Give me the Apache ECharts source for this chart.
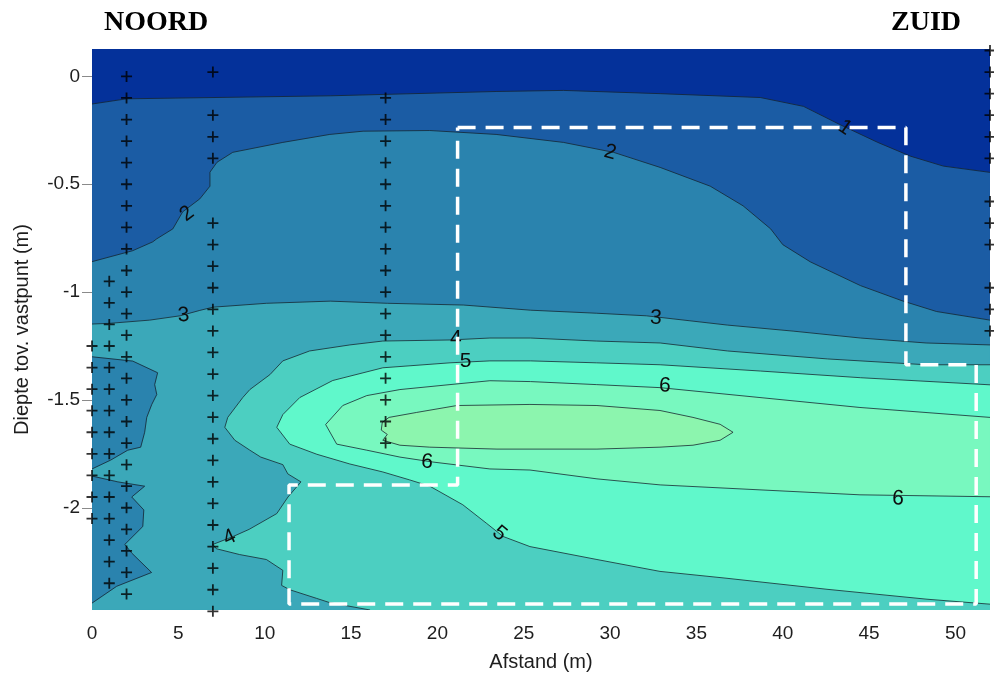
<!DOCTYPE html>
<html><head><meta charset="utf-8">
<script src="https://cdn.jsdelivr.net/npm/echarts@6/dist/echarts.min.js"></script>
<style>html,body{margin:0;padding:0;background:#fff}#c{width:994px;height:677px}</style>
</head><body><div id="c"></div>
<script>
// ---------- data ----------
const xTicks = [0, 5, 10, 15, 20, 25, 30, 35, 40, 45, 50];
const yTicks = [-2, -1.5, -1, -0.5, 0];
const xExtent = [0, 52];
const yExtent = [-2.474, 0.127];

// contour lines (x in m, depth in m)
const contour1 = [[0,-0.128],[2,-0.104],[13.8,-0.09],[23.4,-0.07],[27.3,-0.065],[32.9,-0.08],[38.7,-0.098],[41.2,-0.139],[43.3,-0.223],[45.5,-0.306],[47.4,-0.37],[49.3,-0.416],[52,-0.445]];
const contour2 = [[0,-0.859],[2.36,-0.808],[3.52,-0.767],[3.75,-0.753],[4.68,-0.707],[5.25,-0.628],[6.24,-0.568],[6.83,-0.509],[6.83,-0.444],[7.24,-0.398],[8.15,-0.352],[11.05,-0.306],[13.77,-0.269],[15.7,-0.254],[19.56,-0.251],[23.4,-0.269],[27.3,-0.306],[30.2,-0.352],[32.9,-0.422],[35.8,-0.509],[37.7,-0.6],[39.3,-0.707],[40.0,-0.78],[41.6,-0.86],[44.5,-0.97],[46.9,-1.04],[48.9,-1.09],[52,-1.13]];
const contour3 = [[0,-1.148],[1.0,-1.145],[3.34,-1.13],[5.1,-1.11],[6.24,-1.085],[7.0,-1.07],[10.1,-1.052],[13.8,-1.042],[17.1,-1.052],[21.5,-1.06],[25.4,-1.084],[29.2,-1.098],[32.1,-1.11],[36.8,-1.153],[40.6,-1.181],[44.5,-1.213],[48.3,-1.236],[52,-1.245]];
const contour3BlobUpper = [[0,-1.30],[2.36,-1.32],[3.8,-1.374],[3.63,-1.429],[3.75,-1.475],[3.46,-1.521],[3.17,-1.581],[3.05,-1.65],[2.82,-1.719],[2.07,-1.733],[1.08,-1.779],[0,-1.82]];
const contour3BlobLower = [[0,-1.853],[1.5,-1.88],[3.05,-1.9],[2.3,-1.95],[3.0,-2.01],[2.94,-2.087],[1.9,-2.17],[2.3,-2.21],[3.45,-2.3],[1.43,-2.364],[0,-2.442]];
const contour4 = [[52,-1.337],[48.3,-1.337],[42.6,-1.31],[36.8,-1.273],[32.9,-1.236],[29.2,-1.227],[25.4,-1.213],[23.04,-1.213],[20.73,-1.222],[16.84,-1.227],[14.93,-1.245],[12.6,-1.273],[11.05,-1.319],[10.3,-1.383],[9.14,-1.452],[8.73,-1.489],[7.86,-1.581],[7.69,-1.627],[8.27,-1.687],[9.14,-1.733],[9.77,-1.765],[11.05,-1.8],[11.34,-1.843],[12.1,-1.88],[11.35,-1.95],[10.7,-2.027],[9.1,-2.1],[8.15,-2.134],[7.0,-2.17],[7.2,-2.19],[8.55,-2.217],[10.1,-2.24],[11.05,-2.29],[10.98,-2.36],[11.45,-2.38],[13.0,-2.42],[13.77,-2.44],[16.1,-2.474]];
const contour5 = [[52,-1.43],[44.5,-1.397],[38.7,-1.366],[32.9,-1.337],[29.2,-1.328],[25.4,-1.319],[23.04,-1.319],[20.73,-1.328],[16.84,-1.351],[13.94,-1.41],[12.03,-1.489],[11.05,-1.568],[10.7,-1.627],[11.45,-1.705],[13.02,-1.752],[14.93,-1.797],[16.84,-1.834],[18.4,-1.871],[19.56,-1.9],[21.47,-1.986],[22.86,-2.073],[23.8,-2.133],[25.36,-2.18],[29.24,-2.24],[32.89,-2.295],[36.77,-2.327],[42.56,-2.378],[48.35,-2.424],[52,-2.447]];
const contour6 = [[52,-1.581],[44.47,-1.535],[38.68,-1.489],[32.89,-1.443],[29.2,-1.429],[25.4,-1.415],[23.04,-1.411],[20.73,-1.429],[17.83,-1.452],[15.91,-1.48],[14.52,-1.526],[13.53,-1.614],[14.17,-1.705],[15.91,-1.733],[17.83,-1.765],[19.74,-1.788],[23.04,-1.82],[25.36,-1.825],[29.24,-1.866],[32.9,-1.894],[38.68,-1.917],[44.47,-1.94],[52,-1.949]];
const contour7 = [[16.81,-1.604],[17.2,-1.581],[18.8,-1.558],[21.13,-1.526],[25.36,-1.521],[29.24,-1.526],[32.89,-1.549],[34.8,-1.581],[36.37,-1.613],[37.12,-1.65],[36.37,-1.687],[34.8,-1.71],[32.89,-1.719],[29.24,-1.728],[23.45,-1.728],[19.56,-1.719],[17.83,-1.71],[16.84,-1.687],[17.1,-1.66],[16.75,-1.64],[16.81,-1.604]];

// contour labels: text, x, depth
const labelTexts = ['1','2','2','3','3','4','4','5','5','6','6','6'];
const labelX     = [43.6, 30.0, 5.5, 5.3, 32.65, 21.07, 7.97, 21.64, 23.6, 33.17, 19.4, 46.68];
const labelY     = [-0.237, -0.352, -0.637, -1.108, -1.12, -1.213, -2.138, -1.319, -2.12, -1.434, -1.788, -1.958];

// measurement points (+) per profile
const probeX = [0, 1, 2, 7, 17, 52];
const depthsAt0  = [-1.25,-1.35,-1.45,-1.55,-1.65,-1.75,-1.85,-1.95,-2.05];
const depthsAt1  = [-0.95,-1.05,-1.15,-1.25,-1.35,-1.45,-1.55,-1.65,-1.75,-1.85,-1.95,-2.05,-2.15,-2.25,-2.35];
const depthsAt2  = [0,-0.1,-0.2,-0.3,-0.4,-0.5,-0.6,-0.7,-0.8,-0.9,-1.0,-1.1,-1.2,-1.3,-1.4,-1.5,-1.6,-1.7,-1.8,-1.9,-2.0,-2.1,-2.2,-2.3,-2.4];
const depthsAt7  = [0.02,-0.18,-0.28,-0.38,-0.68,-0.78,-0.88,-0.98,-1.08,-1.18,-1.28,-1.38,-1.48,-1.58,-1.68,-1.78,-1.88,-1.98,-2.08,-2.18,-2.28,-2.38,-2.48];
const depthsAt17 = [-0.1,-0.2,-0.3,-0.4,-0.5,-0.6,-0.7,-0.8,-0.9,-1.0,-1.1,-1.2,-1.3,-1.4,-1.5,-1.6,-1.7];
const depthsAt52 = [0.12,0.02,-0.08,-0.18,-0.28,-0.38,-0.58,-0.68,-0.78,-0.98,-1.08,-1.18];

// dashed outline of the studied zone
const zoneOutline = [[21.17,-0.237],[47.13,-0.237],[47.13,-1.337],[51.2,-1.337],[51.2,-2.446],[11.41,-2.446],[11.41,-1.894],[21.17,-1.894],[21.17,-0.237]];

// ---------- styles ----------
const bandColors = ['#04319a','#1b5ca4','#2a83ae','#3ba8b9','#4ccfc1','#60f8cb','#78f8bf','#8cf5ae'];
const labelAngles = [-35, -15, 38, 3, -3, 0, 25, 0, -40, -3, -5, -2];
const FONT = '"Liberation Sans", Arial, sans-serif';

// ---------- build fill regions ----------
const x0 = xExtent[0], x1 = xExtent[1], yb = yExtent[0], yt = yExtent[1];
const fills = [
  {pts: [[x0,yt],[x1,yt],[x1,yb],[x0,yb]], c: bandColors[0]},
  {pts: contour1.concat([[x1,yb],[x0,yb]]), c: bandColors[1]},
  {pts: contour2.concat([[x1,yb],[x0,yb]]), c: bandColors[2]},
  {pts: contour3.concat([[x1,yb],[x0,yb]]), c: bandColors[3]},
  {pts: contour3BlobUpper, c: bandColors[2]},
  {pts: contour3BlobLower, c: bandColors[2]},
  {pts: contour4.concat([[x1,yb]]), c: bandColors[4]},
  {pts: contour5, c: bandColors[5]},
  {pts: contour6, c: bandColors[6]},
  {pts: contour7, c: bandColors[7]}
];
const lines = [contour1, contour2, contour3, contour3BlobUpper, contour3BlobLower, contour4, contour5, contour6, contour7];

const probeDepths = [depthsAt0, depthsAt1, depthsAt2, depthsAt7, depthsAt17, depthsAt52];
const probePoints = [];
probeX.forEach((x, i) => probeDepths[i].forEach(d => probePoints.push([x, d])));

const PLUS = 'path://M4.6,0H6.4V4.6H11V6.4H6.4V11H4.6V6.4H0V4.6H4.6Z';

const chart = echarts.init(document.getElementById('c'), null, {renderer: 'canvas'});
chart.setOption({
  animation: false,
  backgroundColor: '#ffffff',
  grid: {left: 92, right: 4, top: 49, bottom: 63},
  xAxis: [{
    type: 'value', min: xExtent[0], max: xExtent[1], position: 'bottom',
    axisLine: {show: false},
    axisTick: {show: true, length: 9, customValues: xTicks, lineStyle: {color: '#8a8a8a'}},
    axisLabel: {customValues: xTicks, fontSize: 19, color: '#1e1e1e', fontFamily: FONT, margin: 14},
    splitLine: {show: false},
    name: 'Afstand (m)', nameLocation: 'middle', nameGap: 42,
    nameTextStyle: {fontSize: 20, color: '#1e1e1e', fontFamily: FONT}
  }, {
    type: 'value', min: xExtent[0], max: xExtent[1], position: 'top',
    axisLine: {show: false},
    axisTick: {show: true, length: 10, customValues: xTicks, lineStyle: {color: '#8a8a8a'}},
    axisLabel: {show: false}, splitLine: {show: false}
  }],
  yAxis: [{
    type: 'value', min: yExtent[0], max: yExtent[1], position: 'left',
    axisLine: {show: false},
    axisTick: {show: true, length: 10, customValues: yTicks, lineStyle: {color: '#8a8a8a'}},
    axisLabel: {customValues: yTicks, fontSize: 19, color: '#1e1e1e', fontFamily: FONT, margin: 12},
    splitLine: {show: false},
    name: 'Diepte tov. vastpunt (m)', nameLocation: 'middle', nameGap: 60, nameRotate: 90,
    nameTextStyle: {fontSize: 20, color: '#1e1e1e', fontFamily: FONT}
  }, {
    type: 'value', min: yExtent[0], max: yExtent[1], position: 'right',
    axisLine: {show: false},
    axisTick: {show: true, length: 6, customValues: yTicks, lineStyle: {color: '#8a8a8a'}},
    axisLabel: {show: false}, splitLine: {show: false}
  }],
  graphic: [
    {type: 'text', left: 104, top: 9, style: {text: 'NOORD', font: 'bold 28px "Liberation Serif", "Times New Roman", serif', fill: '#000'}},
    {type: 'text', left: 891, top: 9, style: {text: 'ZUID', font: 'bold 28px "Liberation Serif", "Times New Roman", serif', fill: '#000'}}
  ],
  series: [
    {
      type: 'custom', name: 'fills', xAxisIndex: 0, yAxisIndex: 0, clip: true, z: 1,
      data: fills.map((f, i) => [i, 0]),
      renderItem: (params, api) => {
        const f = fills[api.value(0)];
        return {type: 'polygon', shape: {points: f.pts.map(p => api.coord(p))},
                style: {fill: f.c, stroke: f.c, lineWidth: 0.3}};
      }
    },
    {
      type: 'custom', name: 'contours', xAxisIndex: 0, yAxisIndex: 0, clip: true, z: 2,
      data: lines.map((l, i) => [i, 0]),
      renderItem: (params, api) => {
        const l = lines[api.value(0)];
        return {type: 'polyline', shape: {points: l.map(p => api.coord(p))},
                style: {fill: null, stroke: '#14202c', lineWidth: 0.9, opacity: 0.85}};
      }
    },
    {
      type: 'custom', name: 'labels', xAxisIndex: 0, yAxisIndex: 0, clip: false, z: 3,
      data: labelTexts.map((t, i) => [labelX[i], labelY[i]]),
      renderItem: (params, api) => {
        const i = params.dataIndex;
        const pt = api.coord([api.value(0), api.value(1)]);
        return {type: 'text', x: pt[0], y: pt[1], rotation: labelAngles[i] * Math.PI / 180,
                style: {text: labelTexts[i], fill: '#0d0d0d', fontSize: 21, fontFamily: FONT,
                        align: 'center', verticalAlign: 'middle'}};
      }
    },
    {
      type: 'line', name: 'zone', data: zoneOutline, showSymbol: false, clip: false, z: 4,
      lineStyle: {color: '#ffffff', width: 3.5, type: [18, 10]}
    },
    {
      type: 'scatter', name: 'punten', data: probePoints, clip: false, z: 5,
      symbol: PLUS, symbolSize: 11, itemStyle: {color: '#000'}
    }
  ]
});
</script>
</body></html>
